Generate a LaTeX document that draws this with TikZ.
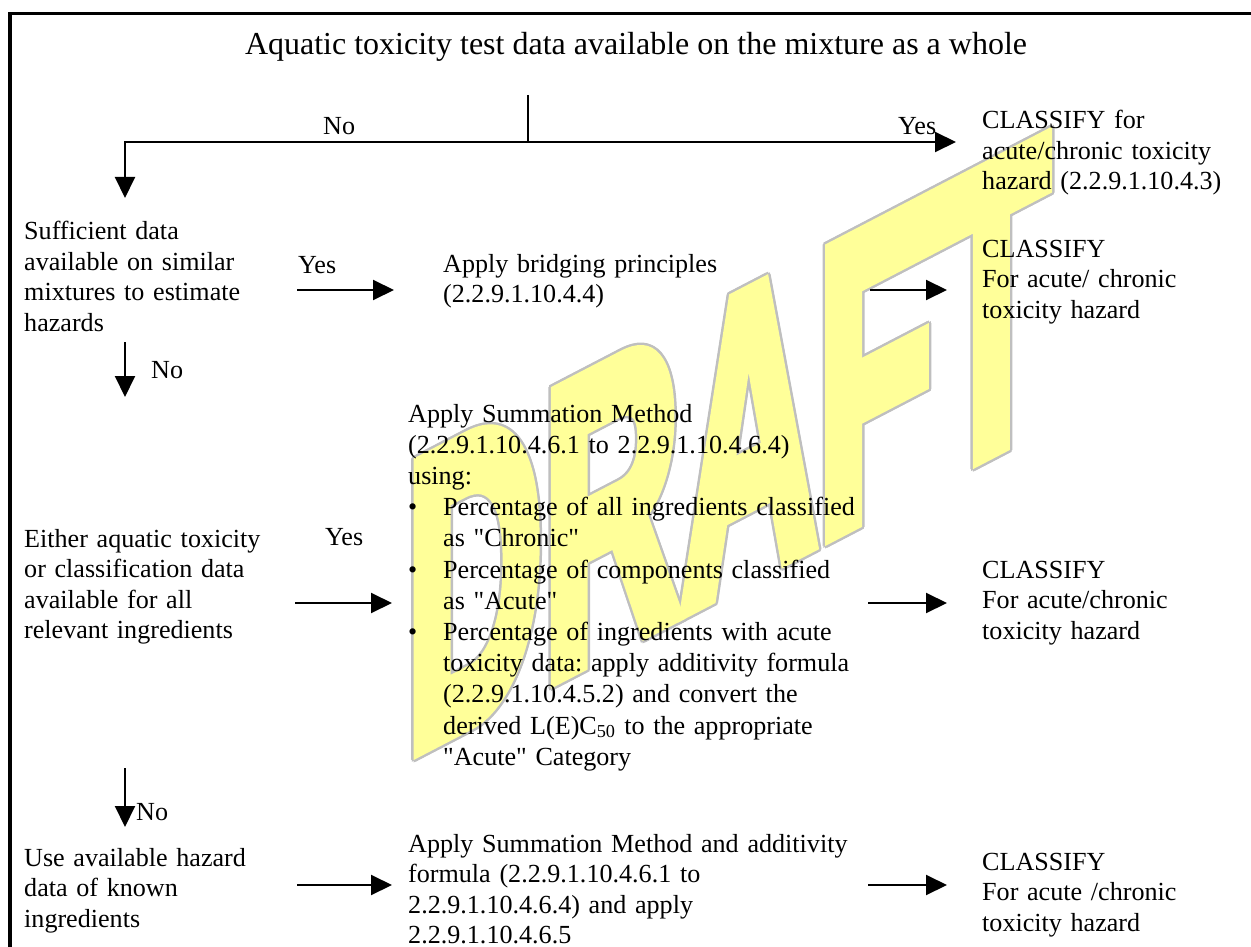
\documentclass[tikz,border=0pt]{standalone}
\usepackage{fontspec}
\setmainfont{Liberation Serif}
\newfontfamily\wmfont{Liberation Sans}[BoldFeatures={FakeBold=5}]
\usetikzlibrary{arrows.meta}
\definecolor{wmyellow}{HTML}{FFFF99}
\definecolor{wmgray}{HTML}{BFBFBF}
\newcommand{\myq}[1]{\textquotedbl#1\textquotedbl}
\begin{document}
\frenchspacing
\begin{tikzpicture}[x=1pt,y=-1pt,
  txt/.style={anchor=base west, inner sep=0pt, text width=620pt, align=left, font=\fontsize{26.1}{30.5}\selectfont},
  lbl/.style={anchor=base west, inner sep=0pt, font=\fontsize{26.1}{30.5}\selectfont},
  arr/.style={-{Triangle[length=21pt,width=20pt]}, line width=2pt},
  ln/.style={line width=2pt},
  wm/.style={anchor=base west, inner sep=0pt, transform shape, font=\wmfont\bfseries\fontsize{190}{190}\selectfont}]
\useasboundingbox (0,0) rectangle (1251,947);

% watermark
\foreach \dx/\dy [count=\i] in {-2.5/0,2.5/0,0/-2.5,0/2.5,-1.8/-1.8,1.8/-1.8,-1.8/1.8,1.8/1.8}{
  \begin{scope}[shift={(405.5+\dx,754+\dy)}, cm={1,0.52,0,2.15,(0,0)}]
    \node[wm, text=wmgray] (wmo\i) at (0,0) {DRAFT};
  \end{scope}}
\begin{scope}[shift={(405.5,754)}, cm={1,0.52,0,2.15,(0,0)}]
  \node[wm, text=wmyellow] (wm) at (0,0) {DRAFT};
\end{scope}

% frame
\draw[line width=3.5pt] (10,947) -- (10,13.5) -- (1251,13.5);

% title and first split
\node[lbl, anchor=base, font=\fontsize{32}{36}\selectfont] (title) at (636,55) {Aquatic toxicity test data available on the mixture as a whole};
\coordinate (top) at (528,95);
\coordinate (split) at (528,142);
\coordinate (a0) at (125,198);
\coordinate (a1) at (956,142);
\draw[ln] (top) -- (split);
\draw[arr] (split) -| (a0);
\draw[arr] (split) -- (a1);
\node[lbl] (no1) at (323,135) {No};
\node[lbl] (yes1) at (898,135) {Yes};
\node[txt] (cl1) at (982,129) {CLASSIFY for\\acute/chronic toxicity\\hazard (2.2.9.1.10.4.3)};

% row 2
\node[txt] (suff) at (24,240) {Sufficient data\\available on similar\\mixtures to estimate\\hazards};
\node[lbl] (yes2) at (298,273) {Yes};
\coordinate (b1s) at (297,290);
\coordinate (b1e) at (394,290);
\draw[arr] (b1s) -- (b1e);
\node[txt] (bridge) at (443,272) {Apply bridging principles\\(2.2.9.1.10.4.4)};
\coordinate (b2s) at (870,290);
\coordinate (b2e) at (947,290);
\draw[arr] (b2s) -- (b2e);
\node[txt] (cl2) at (982,257) {CLASSIFY\\For acute/ chronic\\toxicity hazard};
\coordinate (n2s) at (125,342);
\coordinate (n2e) at (125,397);
\draw[arr] (n2s) -- (n2e);
\node[lbl] (no2) at (151,378) {No};

% row 3
\node[txt, font=\fontsize{26.1}{31.2}\selectfont] (summ) at (408,422) {Apply Summation Method\\
(2.2.9.1.10.4.6.1 to 2.2.9.1.10.4.6.4)\\
using:\\
\makebox[35pt][l]{\textbullet}Percentage of all ingredients classified\\
\hspace*{35pt}as \myq{Chronic}\\
\makebox[35pt][l]{\textbullet}Percentage of components classified\\
\hspace*{35pt}as \myq{Acute}\\
\makebox[35pt][l]{\textbullet}Percentage of ingredients with acute\\
\hspace*{35pt}toxicity data: apply additivity formula\\
\hspace*{35pt}(2.2.9.1.10.4.5.2) and convert the\\
\hspace*{35pt}derived L(E)C\textsubscript{50} to the appropriate\\
\hspace*{35pt}\myq{Acute} Category};
\node[txt] (either) at (24,547) {Either aquatic toxicity\\or classification data\\available for all\\relevant ingredients};
\node[lbl] (yes3) at (325,545) {Yes};
\coordinate (c1s) at (295,603);
\coordinate (c1e) at (392,603);
\draw[arr] (c1s) -- (c1e);
\coordinate (c2s) at (868,603);
\coordinate (c2e) at (947,603);
\draw[arr] (c2s) -- (c2e);
\node[txt] (cl3) at (982,578) {CLASSIFY\\For acute/chronic\\toxicity hazard};
\coordinate (n3s) at (125,768);
\coordinate (n3e) at (125,827);
\draw[arr] (n3s) -- (n3e);
\node[lbl] (no3) at (136,820) {No};

% row 4
\node[txt] (use) at (24,866) {Use available hazard\\data of known\\ingredients};
\coordinate (d1s) at (297,885);
\coordinate (d1e) at (392,885);
\draw[arr] (d1s) -- (d1e);
\node[txt] (summ2) at (408,852) {Apply Summation Method and additivity\\formula (2.2.9.1.10.4.6.1 to\\2.2.9.1.10.4.6.4) and apply\\2.2.9.1.10.4.6.5};
\coordinate (d2s) at (868,885);
\coordinate (d2e) at (947,885);
\draw[arr] (d2s) -- (d2e);
\node[txt] (cl4) at (982,870) {CLASSIFY\\For acute /chronic\\toxicity hazard};
\end{tikzpicture}
\end{document}
